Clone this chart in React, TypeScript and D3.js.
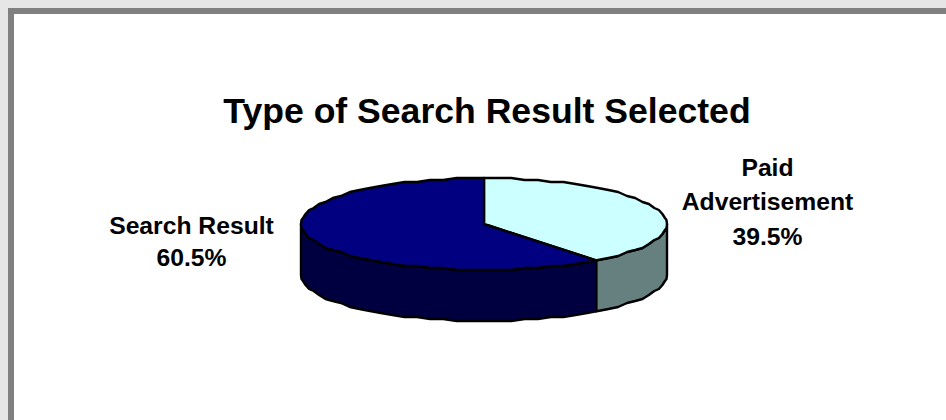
import React from "react";
import * as d3 from "d3";

const categories = ["Paid Advertisement", "Search Result"];
const values = [39.5, 60.5];
const topColors = ["#ccffff", "#000080"];
const sideColors = ["#668080", "#000040"];
const titleText = "Type of Search Result Selected";

const width = 946;
const height = 420;
const depth = 51;

// unit circle -> flattened ellipse
const px = d3.scaleLinear().domain([-1, 1]).range([301, 667]);
const py = d3.scaleLinear().domain([-1, 1]).range([178, 270]);

const pie = d3.pie<number>().sort(null).startAngle(0).endAngle(2 * Math.PI);
const arcs = pie(values);

const STEP = (2 * Math.PI) / 84;
const GRID = 2; // the original rim was plotted on a coarse grid, hence the scallops

const line = d3.line<[number, number]>().curve(d3.curveLinear);

const point = (a: number, dy: number, snap: boolean): [number, number] => {
  const y = py(-Math.cos(a));
  return [px(Math.sin(a)), (snap ? Math.round(y / GRID) * GRID : y) + dy];
};

// samples sit on a fixed angle grid so the wall and top edges line up
const rim = (a0: number, a1: number, dy = 0): [number, number][] => {
  const inner = d3
    .range(Math.ceil(a0 / STEP + 0.01), a1 / STEP - 0.01)
    .map(k => point(k * STEP, dy, true));
  return [point(a0, dy, false), ...inner, point(a1, dy, false)];
};

const topPath = (a0: number, a1: number) =>
  line([[px(0), py(0)], ...rim(a0, a1)]) + "Z";

// only the front half of the rim (angles PI/2..3PI/2) has a visible wall
const sidePath = (a0: number, a1: number) => {
  const s = Math.max(a0, Math.PI / 2);
  const e = Math.min(a1, (3 * Math.PI) / 2);
  if (e <= s) return null;
  return line([...rim(s, e), ...rim(s, e, depth).reverse()]) + "Z";
};

const fontFamily = "'Liberation Sans', Arial, sans-serif";

export default function App() {
  return (
    <svg
      width={width}
      height={height}
      style={{ position: "absolute", left: 0, top: 0, background: "#fff" }}
    >
      <rect x={0} y={0} width={width} height={8} fill="#e6e6e6" />
      <rect x={0} y={0} width={8} height={height} fill="#e6e6e6" />
      <rect x={8} y={8} width={width - 8} height={6} fill="#808080" />
      <rect x={8} y={8} width={6} height={height - 8} fill="#808080" />

      <text x={487} y={123} textAnchor="middle" fontFamily={fontFamily} fontWeight="bold" fontSize={35.6}>
        {titleText}
      </text>

      {arcs.map((d, i) => (
        <path
          key={"side" + i}
          d={sidePath(d.startAngle, d.endAngle) || ""}
          fill={sideColors[i]}
          stroke="#000"
          strokeWidth={2.4}
          strokeLinejoin="round"
        />
      ))}
      {arcs.map((d, i) => (
        <path
          key={"top" + i}
          d={topPath(d.startAngle, d.endAngle)}
          fill={topColors[i]}
          stroke="#000"
          strokeWidth={2.4}
          strokeLinejoin="round"
        />
      ))}

      <g fontFamily={fontFamily} fontWeight="bold" fontSize={24.7} textAnchor="middle" fill="#000">
        <text x={767.5} y={176}>Paid</text>
        <text x={767.5} y={210}>Advertisement</text>
        <text x={767.5} y={245}>{d3.format(".1f")(values[0])}%</text>
        <text x={191.5} y={234}>{categories[1]}</text>
        <text x={191.5} y={266}>{d3.format(".1f")(values[1])}%</text>
      </g>
    </svg>
  );
}
